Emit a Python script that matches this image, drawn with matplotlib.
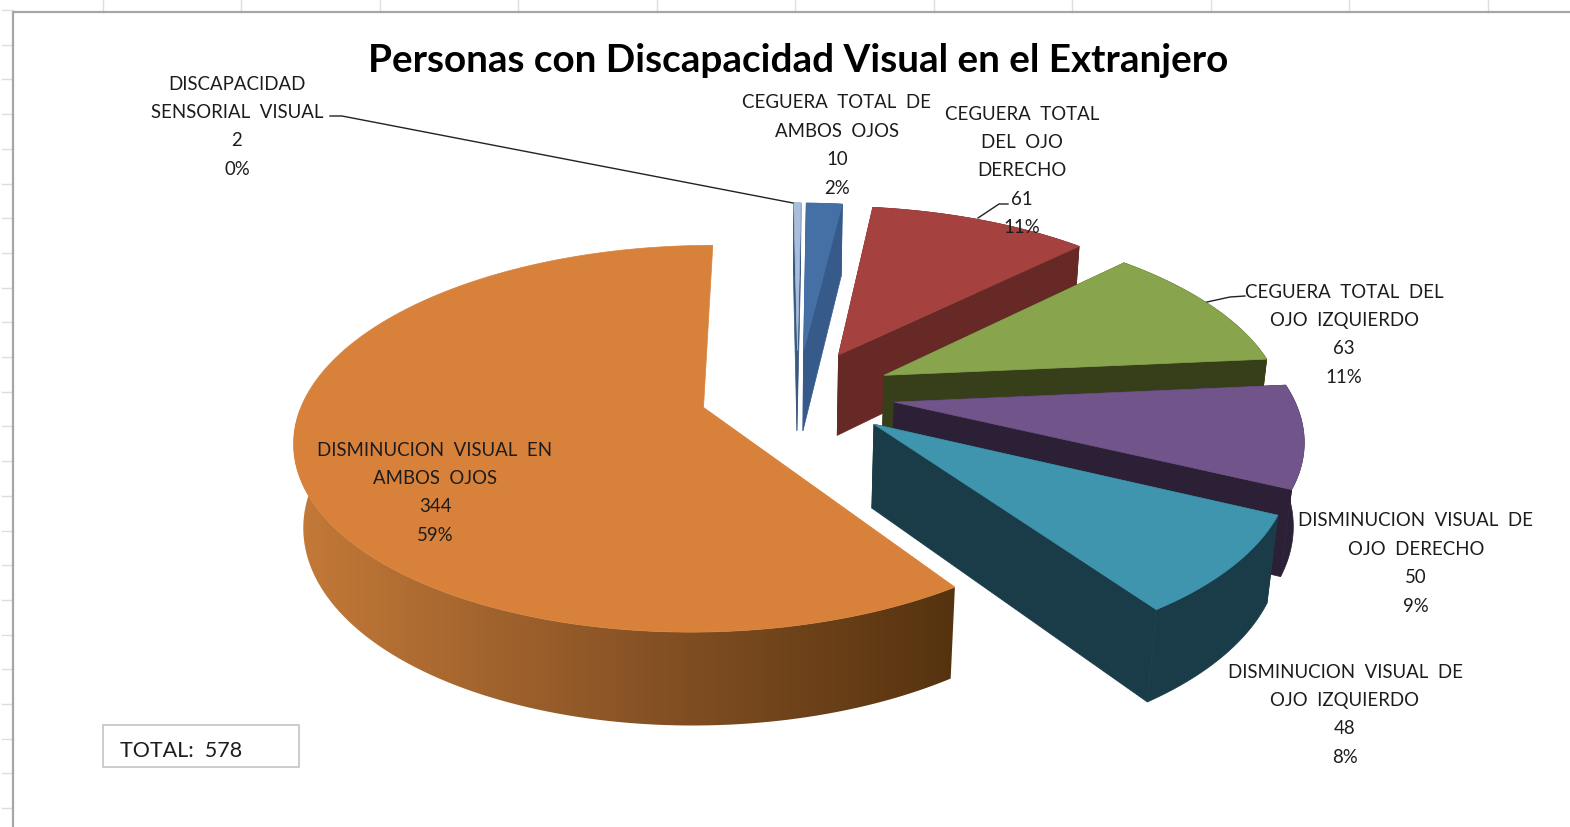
import numpy as np
import matplotlib
matplotlib.use("Agg")
import matplotlib.pyplot as plt
from matplotlib.colors import LinearSegmentedColormap
from matplotlib.patches import Polygon, Rectangle

plt.rcParams['font.family'] = ['Lato', 'DejaVu Sans']

title = "Personas con Discapacidad Visual en el Extranjero"
names = [
    ["DISCAPACIDAD", "SENSORIAL  VISUAL"],
    ["CEGUERA  TOTAL  DE", "AMBOS  OJOS"],
    ["CEGUERA  TOTAL", "DEL  OJO", "DERECHO"],
    ["CEGUERA  TOTAL  DEL", "OJO  IZQUIERDO"],
    ["DISMINUCION  VISUAL  DE", "OJO  DERECHO"],
    ["DISMINUCION  VISUAL  DE", "OJO  IZQUIERDO"],
    ["DISMINUCION  VISUAL  EN", "AMBOS  OJOS"],
]
values = [2, 10, 61, 63, 50, 48, 344]
percents = [0, 2, 11, 11, 9, 8, 59]
total = 578

top_colors = ['#a9bedd', '#4470a6', '#a5423f', '#88a44c', '#70548a', '#3f95ad', '#d8813b']
side_colors = ['#37587f', '#365a8a', '#662926', '#363f1a', '#2c2036', '#1a3c48', None]
orange_side = LinearSegmentedColormap.from_list('orange_side', ['#c47a38', '#8a5426', '#55330f'])

# label anchor (centre x, first line y)
label_pos = [(237, 84), (837, 103), (1022, 114), (1344, 292), (1416, 521), (1345, 672), (435, 450)]
line_step = 28.4

# perspective of the pie, in image pixels
vanish_x, cy = 770, 394
vanish_shift = 0.069
fx, fy = 398, 184
depth_q, depth_p = 0.16, 0.02
height = 84
explode = 0.245


def project(u, v, z=0.0):
    w = 1 + depth_q * v + depth_p * z
    return np.column_stack([vanish_x + fx * (u + vanish_shift) / w, cy + (-fy * v + height * z) / w])


fig = plt.figure(figsize=(15.7, 8.27), dpi=100)
ax = fig.add_axes([0, 0, 1, 1])
ax.set_xlim(0, 1570)
ax.set_ylim(827, 0)
ax.axis('off')

# spreadsheet behind the chart
for x in np.arange(103, 1570, 138.45):
    ax.plot([x, x], [0, 12], color='#dedede', lw=1)
for y in np.arange(10, 827, 34.7):
    ax.plot([2, 13], [y, y], color='#dedede', lw=1)
ax.plot([13, 13, 1570], [827, 12, 12], color='#a6a6a6', lw=1.6)

edges = np.cumsum([0] + values) / total * 2 * np.pi
for i in range(len(values)):
    a0, a1 = edges[i], edges[i + 1]
    mid = (a0 + a1) / 2
    ou, ov = explode * np.sin(mid), explode * np.cos(mid)
    t = np.linspace(a0, a1, 160)
    ru, rv = ou + np.sin(t), ov + np.cos(t)

    top_rim = project(ru, rv)
    bot_rim = project(ru, rv, 1)
    top_apex = project(np.array([ou]), np.array([ov]))
    bot_apex = project(np.array([ou]), np.array([ov]), 1)

    if side_colors[i] is not None:
        col = side_colors[i]
        for rim_t, rim_b in [(top_rim[0], bot_rim[0]), (top_rim[-1], bot_rim[-1])]:
            ax.add_patch(Polygon([top_apex[0], rim_t, rim_b, bot_apex[0]], fc=col, ec=col, lw=0.5))
        ax.add_patch(Polygon(np.vstack([top_rim, bot_rim[::-1]]), fc=col, ec=col, lw=0.5))
    else:
        # only the front of the big slice shows its wall
        front = np.cos(t) < 0
        wall = np.vstack([top_rim[front], bot_rim[front][::-1]])
        clip = Polygon(wall, fc='none', ec='none', transform=ax.transData)
        ax.add_patch(clip)
        xs = np.linspace(0, 1, 512).reshape(1, -1)
        im = ax.imshow(xs, cmap=orange_side, aspect='auto', zorder=2,
                       extent=[wall[:, 0].min(), wall[:, 0].max(), wall[:, 1].max() + 2, wall[:, 1].min() - 2])
        im.set_clip_path(clip)
        ax.set_xlim(0, 1570)
        ax.set_ylim(827, 0)

    ax.add_patch(Polygon(np.vstack([top_apex, top_rim]), fc=top_colors[i], ec=top_colors[i], lw=0.5, zorder=3))

# leader lines
ax.plot([330, 342, 793], [116, 116, 203], color='#222222', lw=1, zorder=4)
ax.plot([978, 999, 1008], [218, 204, 204], color='#222222', lw=1, zorder=4)
ax.plot([1207, 1230, 1245], [302, 297, 296], color='#222222', lw=1, zorder=4)

for i, (x, y) in enumerate(label_pos):
    lines = names[i] + [str(values[i]), f"{percents[i]}%"]
    for j, line in enumerate(lines):
        ax.text(x, y + j * line_step, line, ha='center', va='center', fontsize=13.4, color='#1c1c1c', zorder=5)

ax.text(798, 60, title, ha='center', va='center', fontsize=27.8, fontweight='bold', color='black', zorder=5)

ax.add_patch(Rectangle((103, 725), 196, 42, fc='white', ec='#c4c4c4', lw=1.2))
ax.text(120, 751, f"TOTAL:  {total}", ha='left', va='center', fontsize=15.5, color='#1c1c1c', zorder=5)

fig.savefig('out.png', dpi=100)
